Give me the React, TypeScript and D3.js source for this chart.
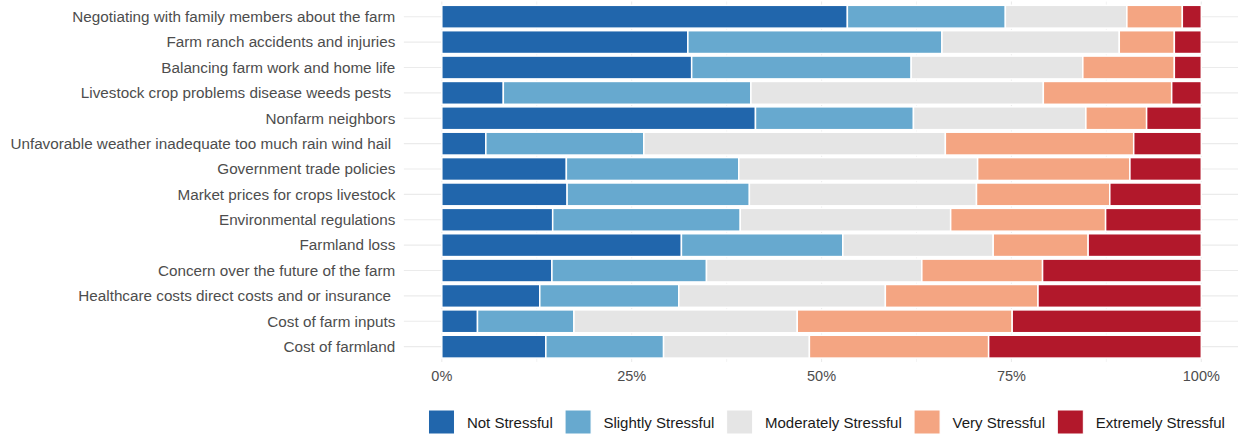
import React, { useEffect, useRef } from "react";
import * as d3 from "d3";

const categories = [
  "Negotiating with family members about the farm",
  "Farm ranch accidents and injuries",
  "Balancing farm work and home life",
  "Livestock crop problems disease weeds pests ",
  "Nonfarm neighbors",
  "Unfavorable weather inadequate too much rain wind hail ",
  "Government trade policies",
  "Market prices for crops livestock",
  "Environmental regulations",
  "Farmland loss",
  "Concern over the future of the farm",
  "Healthcare costs direct costs and or insurance ",
  "Cost of farm inputs",
  "Cost of farmland",
];

const seriesNames = [
  "Not Stressful",
  "Slightly Stressful",
  "Moderately Stressful",
  "Very Stressful",
  "Extremely Stressful",
];

const notStressful = [53.4, 32.4, 32.9, 8.1, 41.3, 5.8, 16.4, 16.5, 14.6, 31.55, 14.5, 12.9, 4.7, 13.7];
const slightlyStressful = [20.8, 33.45, 28.9, 32.6, 20.8, 20.8, 22.7, 24.0, 24.7, 21.25, 20.35, 18.3, 12.7, 15.5];
const moderatelyStressful = [16.0, 23.35, 22.6, 38.5, 22.7, 39.7, 31.45, 29.9, 27.7, 19.8, 28.35, 27.2, 29.4, 19.2];
const veryStressful = [7.3, 7.25, 12.05, 16.9, 8.0, 24.8, 20.05, 17.55, 20.4, 12.5, 15.9, 20.1, 28.3, 23.6];
const extremelyStressful = [2.5, 3.55, 3.55, 3.9, 7.2, 8.9, 9.4, 12.05, 12.6, 14.9, 20.9, 21.5, 24.9, 28.0];

const xTicks = [0, 0.25, 0.5, 0.75, 1];
const xTickLabels = ["0%", "25%", "50%", "75%", "100%"];
const xMinorTicks = [0.125, 0.375, 0.625, 0.875];

const colors = ["#2166AC", "#67A9CF", "#E5E5E5", "#F4A582", "#B2182B"];

const W = 1238;
const H = 435;
const FONT = "'Liberation Sans', Arial, Helvetica, sans-serif";

export default function App() {
  const ref = useRef<SVGSVGElement | null>(null);

  useEffect(() => {
    const svg = d3.select(ref.current);
    svg.selectAll("*").remove();

    const rows = categories.map((c, i) => {
      const vals = [
        notStressful[i],
        slightlyStressful[i],
        moderatelyStressful[i],
        veryStressful[i],
        extremelyStressful[i],
      ];
      const total = d3.sum(vals);
      const o: any = { category: c };
      seriesNames.forEach((s, k) => (o[s] = vals[k] / total));
      return o;
    });

    const stack = d3.stack<any>().keys(seriesNames);
    const stacked = stack(rows);

    const x = d3.scaleLinear().domain([0, 1]).range([441.8, 1201.3]);
    const xExp = [x(-0.05), x(1.05)];
    const y = d3.scalePoint<string>().domain(categories).range([1.5, 361.9]).padding(0.6);
    const step = y.step();
    const bh = step * 0.9;
    const panelTop = 1.5;
    const panelBottom = 361.9;

    const grid = svg.append("g");
    grid
      .selectAll("line.minor")
      .data(xMinorTicks)
      .join("line")
      .attr("x1", (d) => x(d))
      .attr("x2", (d) => x(d))
      .attr("y1", panelTop)
      .attr("y2", panelBottom)
      .attr("stroke", "#ededed")
      .attr("stroke-width", 0.6);
    grid
      .selectAll("line.major")
      .data(xTicks)
      .join("line")
      .attr("x1", (d) => x(d))
      .attr("x2", (d) => x(d))
      .attr("y1", panelTop)
      .attr("y2", panelBottom)
      .attr("stroke", "#ebebeb")
      .attr("stroke-width", 1.1);
    svg
      .append("g")
      .selectAll("line")
      .data(categories)
      .join("line")
      .attr("x1", xExp[0])
      .attr("x2", xExp[1])
      .attr("y1", (d) => y(d)!)
      .attr("y2", (d) => y(d)!)
      .attr("stroke", "#ebebeb")
      .attr("stroke-width", 1.1);

    svg
      .append("g")
      .selectAll("g")
      .data(stacked)
      .join("g")
      .attr("fill", (_d, i) => colors[i])
      .selectAll("rect")
      .data((d) => d)
      .join("rect")
      .attr("x", (d) => x(d[0]))
      .attr("width", (d) => x(d[1]) - x(d[0]))
      .attr("y", (d) => y(d.data.category)! - bh / 2)
      .attr("height", bh)
      .attr("stroke", "#ffffff")
      .attr("stroke-width", 1.5);

    svg
      .append("g")
      .selectAll("text")
      .data(categories)
      .join("text")
      .attr("x", 395.3)
      .attr("y", (d) => y(d)! + 5.3)
      .attr("text-anchor", "end")
      .attr("xml:space", "preserve")
      .style("white-space", "pre")
      .attr("font-family", FONT)
      .attr("font-size", 15.25)
      .attr("fill", "#4d4d4d")
      .text((d) => d);

    svg
      .append("g")
      .selectAll("text")
      .data(xTicks)
      .join("text")
      .attr("x", (d) => x(d))
      .attr("y", 381)
      .attr("text-anchor", "middle")
      .attr("font-family", FONT)
      .attr("font-size", 14.5)
      .attr("fill", "#4d4d4d")
      .text((_d, i) => xTickLabels[i]);

    // legend
    const keyW = 26;
    const keyH = 24;
    const gapKT = 12.4;
    const gapItem = 12.3;
    const lg = svg.append("g");
    const items = lg
      .selectAll("g")
      .data(seriesNames)
      .join("g");
    items
      .append("rect")
      .attr("width", keyW)
      .attr("height", keyH)
      .attr("y", 410)
      .attr("fill", (_d, i) => colors[i])
      .attr("stroke", "#ffffff")
      .attr("stroke-width", 1);
    const texts = items
      .append("text")
      .attr("y", 428)
      .attr("font-family", FONT)
      .attr("font-size", 15)
      .attr("fill", "#1a1a1a")
      .text((d) => d);
    const widths: number[] = [];
    texts.each(function () {
      widths.push((this as SVGTextElement).getComputedTextLength());
    });
    const total =
      d3.sum(widths) + seriesNames.length * (keyW + gapKT) + (seriesNames.length - 1) * gapItem;
    let cx = 826.7 - total / 2;
    items.each(function (_d, i) {
      const g = d3.select(this);
      g.select("rect").attr("x", cx);
      g.select("text").attr("x", cx + keyW + gapKT);
      cx += keyW + gapKT + widths[i] + gapItem;
    });
  }, []);

  return (
    <svg
      ref={ref}
      width={W}
      height={H}
      style={{ position: "absolute", left: 0, top: 0, background: "#ffffff" }}
    />
  );
}
